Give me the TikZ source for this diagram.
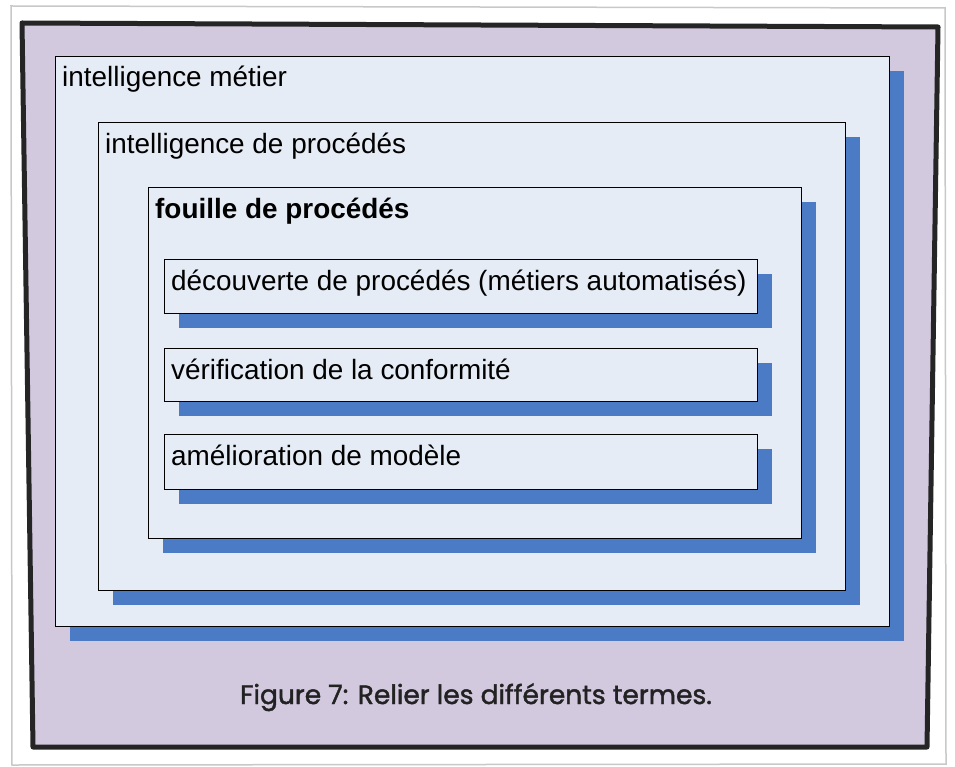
\documentclass[tikz,border=0pt]{standalone}
\usepackage{fontspec}
\setmainfont{Liberation Sans}
\newfontfamily\capfont{Poppins}[FakeBold=1.6]
\usetikzlibrary{shadows}
\definecolor{paperedge}{HTML}{C8C8C8}
\definecolor{framefill}{HTML}{D3C9DF}
\definecolor{framedark}{HTML}{252525}
\definecolor{boxfill}{HTML}{E6ECF6}
\definecolor{shadowc}{HTML}{4A7BC4}
\definecolor{captxt}{HTML}{222222}
\tikzset{
  boxnode/.style={draw=black, line width=1.1pt, fill=boxfill, anchor=north west, inner sep=0pt,
    general shadow={fill=shadowc, shadow xshift=14pt, shadow yshift=-14pt}},
  lbl/.style={anchor=base west, inner sep=0pt, font=\fontsize{27.9}{30}\selectfont},
  lblb/.style={lbl, font=\fontsize{27.9}{30}\selectfont\bfseries},
}
\begin{document}
\begin{tikzpicture}[x=1pt,y=-1pt]
\useasboundingbox (0,0) rectangle (955,767);
\fill[white] (0,0) rectangle (955,767);
% paper
\draw[paperedge, line width=1.5pt, fill=white] (11,6) -- (945,8) -- (946,764) -- (12,765) -- cycle;
% frame
\draw[framedark, line width=5pt, fill=framefill, line join=round]
  (22,23) -- (938,27) -- (927,747) -- (33,747) -- cycle;
% boxes
\node[boxnode, minimum width=834pt, minimum height=570pt] (b1) at (55,56) {};
\node[boxnode, minimum width=747pt, minimum height=468pt] (b2) at (98,122) {};
\node[boxnode, minimum width=653pt, minimum height=351pt] (b3) at (148,187) {};
\node[boxnode, minimum width=593pt, minimum height=54pt] (b4) at (164,259) {};
\node[boxnode, minimum width=593pt, minimum height=53pt] (b5) at (164,348) {};
\node[boxnode, minimum width=593pt, minimum height=55pt] (b6) at (164,434) {};
% labels
\node[lbl] (t1) at (62,87) {intelligence métier};
\node[lbl] (t2) at (105,154) {intelligence de procédés};
\node[lblb] (t3) at (155,219) {fouille de procédés};
\node[lbl] (t4) at (171,290) {découverte de procédés (métiers automatisés)};
\node[lbl] (t5) at (171,379) {vérification de la conformité};
\node[lbl] (t6) at (171,465) {amélioration de modèle};
% caption
\node[anchor=base, inner sep=0pt, text=captxt, font=\capfont\fontsize{26.5}{29}\selectfont] (cap) at (476,704) {Figure 7: Relier les différents termes.};
\end{tikzpicture}
\end{document}
